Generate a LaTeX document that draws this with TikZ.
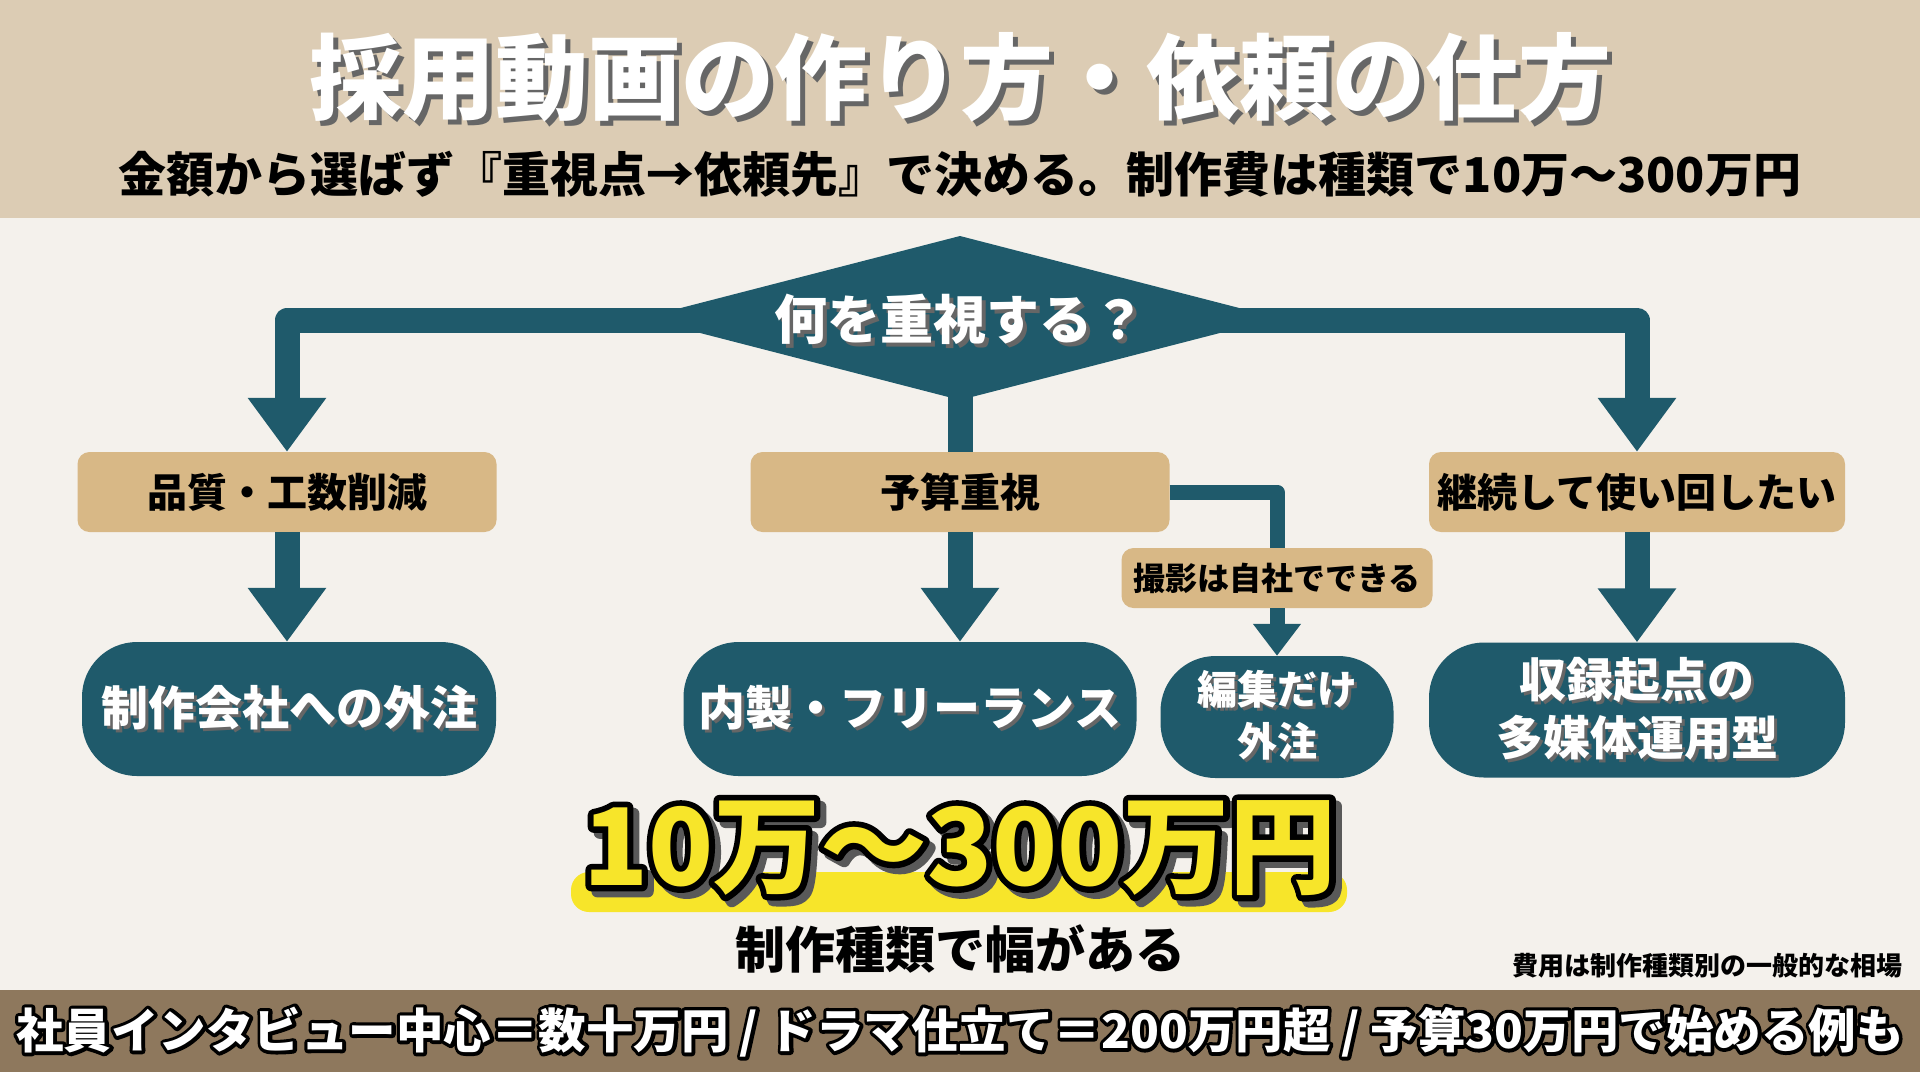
\documentclass[tikz,border=0pt]{standalone}
\usepackage{fontspec}
\setmainfont{Noto Sans CJK JP}[BoldFont={Noto Sans CJK JP Black}]
\usetikzlibrary{arrows.meta}
\definecolor{tealc}{HTML}{1F5A6B}
\definecolor{tanc}{HTML}{D8B886}
\definecolor{hdrc}{HTML}{DCCCB4}
\definecolor{bodyc}{HTML}{F4F1EC}
\definecolor{footc}{HTML}{8E785D}
\definecolor{hlc}{HTML}{F7E52A}
\newcommand\shtxt[2][3pt]{\leavevmode\rlap{\kern#1\raisebox{-#1}{\color{black!60}#2}}#2}
% outlined text: stroke width, stroke colour, fill colour, text
\newcommand\outl[4]{\leavevmode\rlap{\color{#2}\special{pdf:code q 1 Tr #1 w 1 j 1 J}#4\special{pdf:code Q}}{\color{#3}#4}}
\tikzset{
  tanbox/.style={fill=tanc, rounded corners=12pt, minimum width=419pt, minimum height=80pt, inner sep=0pt, font=\fontsize{40}{40}\selectfont\bfseries},
  pill/.style={fill=tealc, rounded corners=55pt, inner sep=0pt, text=white, align=center, font=\fontsize{47}{58}\selectfont\bfseries},
  conn/.style={draw=tealc, line width=25pt, line join=round},
  thinconn/.style={draw=tealc, line width=15pt, line join=round},
  bigtip/.style={-{Triangle[width=75pt,length=54pt]}},
  smalltip/.style={-{Triangle[width=46pt,length=32pt]}},
}
\begin{document}
\begin{tikzpicture}[x=1pt,y=-1pt]
\useasboundingbox (0,0) rectangle (1920,1072);
\fill[bodyc] (0,0) rectangle (1920,1072);
\fill[hdrc] (0,0) rectangle (1920,218);
\fill[footc] (0,990) rectangle (1920,1072);

% title
\node (title) at (960,80) {\fontsize{93}{93}\selectfont\bfseries\color{white}\shtxt[5pt]{採用動画の作り方・依頼の仕方}};
\node (subtitle) at (960,174) {\fontsize{48}{48}\selectfont\bfseries 金額から選ばず『重視点→依頼先』で決める。制作費は種類で10万〜300万円};

% decision diamond corners
\coordinate (qW) at (642,318);
\coordinate (qN) at (960,236);
\coordinate (qE) at (1278,318);
\coordinate (qS) at (960,400);
\coordinate (qC) at (960,320);

% nodes
\node[tanbox] (b1) at (287,492) {品質・工数削減};
\node[tanbox] (b2) at (960,492) {予算重視};
\node[tanbox, minimum width=416pt] (b3) at (1637,492) {継続して使い回したい};
\node[fill=tanc, rounded corners=12pt, minimum width=311pt, minimum height=60pt, inner sep=0pt, font=\fontsize{32}{32}\selectfont\bfseries] (s) at (1277,578) {撮影は自社でできる};
\node[pill, minimum width=414pt, minimum height=134pt] (p1) at (289,709) {\shtxt{制作会社への外注}};
\node[pill, minimum width=453pt, minimum height=134pt] (p2) at (910,709) {\shtxt{内製・フリーランス}};
\node[pill, minimum width=233pt, minimum height=122pt, font=\fontsize{40}{52}\selectfont\bfseries] (p3) at (1277,717) {\shtxt{編集だけ}\\\shtxt{外注}};
\node[pill, minimum width=416pt, minimum height=135pt] (p4) at (1637,710) {\shtxt{収録起点の}\\\shtxt{多媒体運用型}};

% connectors
\draw[conn, bigtip] (qC) -| (b1.north);
\draw[conn, bigtip] (qC) -| (b3.north);
\draw[conn] (qC) -- (b2.north);
\draw[conn, bigtip] (b1.south) -- (p1.north -| b1.south);
\draw[conn, bigtip] (b2.south) -- (p2.north -| b2.south);
\draw[conn, bigtip] (b3.south) -- (p4.north -| b3.south);
\draw[thinconn] (b2.east) -| (s.north);
\draw[thinconn, smalltip] (s.south) -- (p3.north);

% diamond on top of the bars, with its text
\fill[tealc] (qW) -- (qN) -- (qE) -- (qS) -- cycle;
\node[text=white, font=\fontsize{53}{53}\selectfont\bfseries] (qt) at (960,321) {\shtxt[4pt]{何を重視する？}};

% highlight and big text
\fill[hlc, rounded corners=18pt] (571,872) rectangle (1347,912);
\node (big) at (960,851) {\fontsize{107}{107}\selectfont\bfseries
  \leavevmode\rlap{\kern6pt\raisebox{-6pt}{\outl{12}{black!65}{black!65}{10万〜300万円}}}\outl{12}{black}{hlc}{10万〜300万円}};
\node (range) at (960,949) {\fontsize{50}{50}\selectfont\bfseries 制作種類で幅がある};
\node[anchor=east] (note) at (1906,966) {\fontsize{26}{26}\selectfont\bfseries 費用は制作種類別の一般的な相場};

% footer
\node (foot) at (960,1032) {\fontsize{47.5}{47.5}\selectfont\bfseries\outl{7}{black}{white}{社員インタビュー中心＝数十万円 / ドラマ仕立て＝200万円超 / 予算30万円で始める例も}};
\end{tikzpicture}
\end{document}
